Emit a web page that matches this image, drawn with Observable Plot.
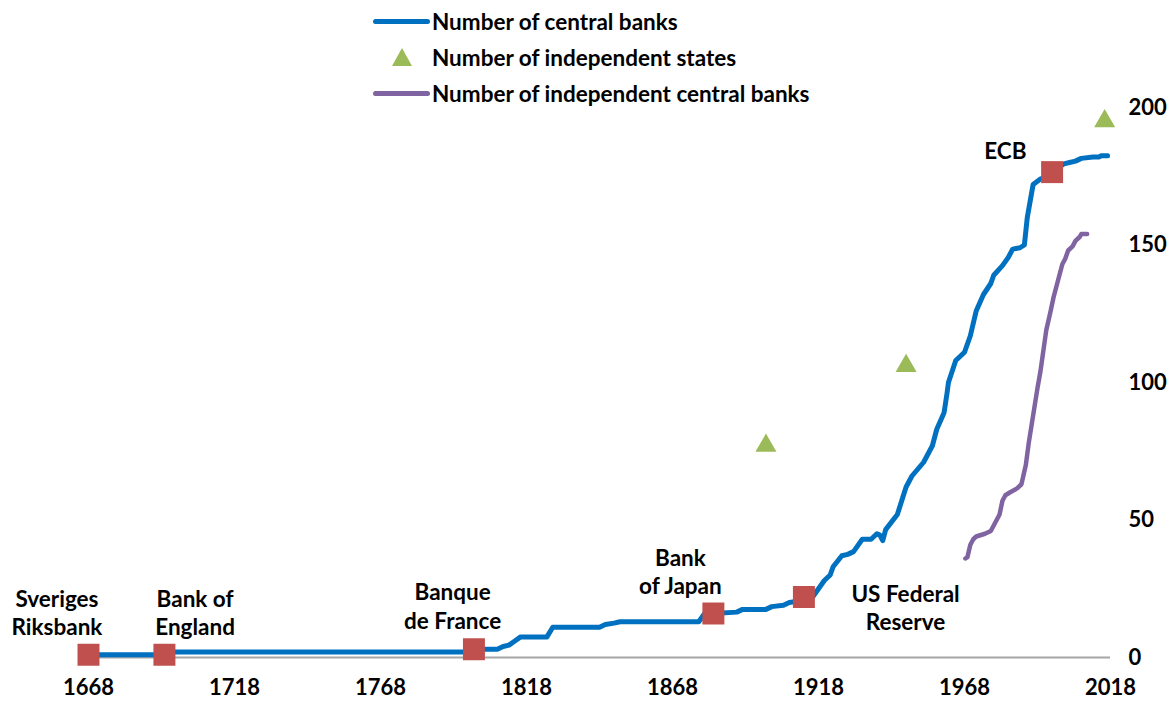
<!DOCTYPE html>
<html><head><meta charset="utf-8">
<script src="https://cdn.jsdelivr.net/npm/d3@7"></script>
<script src="https://cdn.jsdelivr.net/npm/@observablehq/plot@0.6"></script>
<style>
body{margin:0;background:#fff;font-family:Lato,"Liberation Sans",sans-serif;}
#wrap{position:relative;width:1173px;height:702px;}
#legend{position:absolute;left:373px;top:3px;font-weight:bold;font-size:22.5px;color:#000;font-family:Lato,"Liberation Sans",sans-serif;}
.row{display:flex;align-items:center;height:36.3px;white-space:nowrap;}
.sw{width:57px;height:20px;margin-right:2px;display:flex;align-items:center;justify-content:center;}
.bar{width:57px;height:5px;border-radius:3px;}
</style></head><body>
<div id="wrap"><div id="chart"></div><div id="legend"></div></div>
<script>
// Number of central banks
const cbYears = [1668,1693,1694,1799,1800,1808,1810,1812,1814,1816,1825,1827,1843,1845,1848,1850,1877,1879,1882,1890,1892,1900,1902,1906,1908,1911,1913,1916,1918,1920,1922,1923,1926,1928,1930,1933,1936,1938,1939,1940,1941,1945,1948,1950,1954,1957,1958.5,1961,1962,1962.5,1965,1968,1970,1972,1974.5,1977,1978,1981,1983,1984.5,1987,1988.5,1989.5,1991.5,1994,1996,1998,2000,2002,2004,2006,2008,2012,2014,2015,2017];
const cbValues = [1,1,2,2,3,3,4,4.5,6,7.5,7.5,11,11,12,12.5,13,13,16,16,16.5,17.5,17.5,18.5,19,20,20.5,22,22,25,28,30,33,37,37.5,38.5,43,43,45,44.5,42.5,46.5,52,62,66,71,77,83,89,96,100,108,111,117,126,132,136,139,142.5,145.5,148.5,149,150,160,172,174,174.5,176.5,178,179.5,180,180.5,181.5,182,182,182.5,182.5];

// Number of independent central banks
const icbYears = [1968.3,1969,1970,1971,1972,1975,1977,1979,1980,1981,1982,1983.5,1986,1987.5,1989,1990,1991.5,1993,1994,1996,1997.5,1998.5,2000,2001.5,2002.5,2003.5,2005,2006,2007.5,2008,2010];
const icbValues = [36,36.5,41,43,44,45,46,50,52,57,59,60,61.5,63,70,78,88,98,104,119,126,131,137,143,145,148,149.5,151.5,153,154,154];

// Number of independent states
const stateYears = [1900,1948,2016];
const stateValues = [77,106,195];

// Milestone central banks
const bankNames = ["Sveriges\nRiksbank","Bank of\nEngland","Banque\nde France","Bank\nof Japan","US Federal\nReserve","ECB"];
const bankYears = [1668,1694,1800,1882,1913,1998];
const bankValues = [1,1,3,16,22,176.5];
const bankLabelYears = [1657.2,1704.5,1792.7,1870.7,1947.8,1982];
const bankLabelValues = [16.7,16.7,18.9,31.6,18.5,184.7];

// Axes
const xTicks = [1668,1718,1768,1818,1868,1918,1968,2018];
const yTicks = [0,50,100,150,200];

// Legend
const legendItems = [
  {label:"Number of central banks", kind:"line", color:"#0070C0"},
  {label:"Number of independent states", kind:"triangle", color:"#9BBB59"},
  {label:"Number of independent central banks", kind:"line", color:"#8064A2"}
];

const cb = cbYears.map((x,i)=>({x, y: cbValues[i]}));
const icb = icbYears.map((x,i)=>({x, y: icbValues[i]}));
const states = stateYears.map((x,i)=>({x, y: stateValues[i]}));
const banks = bankNames.map((name,i)=>({name, x: bankYears[i], y: bankValues[i], lx: bankLabelYears[i], ly: bankLabelValues[i]}));

const font = "Lato, 'Liberation Sans', sans-serif";
const plot = Plot.plot({
  width: 1173, height: 702,
  marginTop: 107, marginBottom: 45, marginLeft: 88, marginRight: 63,
  x: {domain: [1668, 2018]},
  y: {domain: [0, 200]},
  style: {fontFamily: font, color: "#000", background: "#fff", overflow: "visible"},
  marks: [
    Plot.axisX({ticks: xTicks, tickSize: 0, tickPadding: 22, tickFormat: d => String(d), fontSize: 22, fontWeight: "bold", label: null}),
    Plot.axisY({anchor: "right", ticks: yTicks, tickSize: 0, tickPadding: 18, textAnchor: "start", fontSize: 22, fontWeight: "bold", label: null}),
    Plot.ruleY([0], {stroke: "#a6a6a6", strokeWidth: 2}),
    Plot.line(cb, {x: "x", y: "y", stroke: "#0070C0", strokeWidth: 5}),
    Plot.line(icb, {x: "x", y: "y", stroke: "#8064A2", strokeWidth: 4.5}),
    Plot.dot(states, {x: "x", y: "y", symbol: "triangle", r: 7.8, fill: "#9BBB59", stroke: "none"}),
    Plot.dot(banks, {x: "x", y: "y", symbol: "square", r: 12.4, fill: "#C0504D", stroke: "none"}),
    Plot.text(banks, {x: "lx", y: "ly", text: "name", lineHeight: 1.25, fontSize: 22.5, fontWeight: "bold", fill: "#000"})
  ]
});
document.getElementById("chart").appendChild(plot);

const leg = document.getElementById("legend");
for (const it of legendItems) {
  const row = document.createElement("div"); row.className = "row";
  const sw = document.createElement("div"); sw.className = "sw";
  if (it.kind === "line") {
    const b = document.createElement("div"); b.className = "bar"; b.style.background = it.color; sw.appendChild(b);
  } else {
    sw.innerHTML = `<svg width="20" height="18" viewBox="0 0 20 18"><polygon points="10,0 20,18 0,18" fill="${it.color}"/></svg>`;
  }
  const t = document.createElement("span"); t.textContent = it.label;
  row.appendChild(sw); row.appendChild(t); leg.appendChild(row);
}
</script>
</body></html>
